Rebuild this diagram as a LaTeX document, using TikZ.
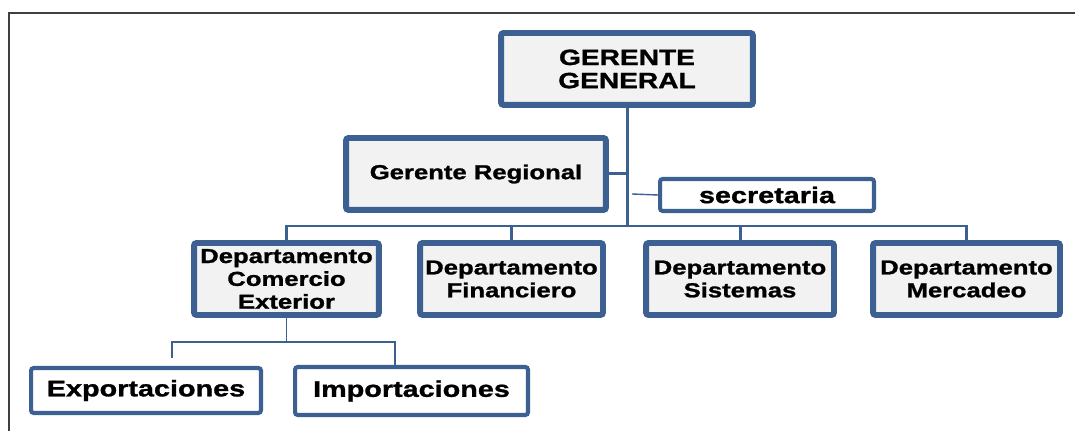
\documentclass[tikz,border=0pt]{standalone}
\usepackage{fontspec}
\setmainfont[FakeStretch=1.27,BoldFeatures={FakeBold=1.2}]{Liberation Sans}
\definecolor{boxblue}{HTML}{3B6091}
\definecolor{boxgray}{HTML}{F2F2F2}
\definecolor{framegray}{HTML}{404040}
\begin{document}
\begin{tikzpicture}[x=0.02cm,y=-0.02cm,
        bigbox/.style={draw=boxblue,fill=boxgray,line width=3.4pt,rounded corners=1.5pt,inner sep=0pt,align=center,font={\bfseries\fontsize{11.5}{13}\selectfont}},
        topbox/.style={bigbox,font={\bfseries\fontsize{12.6}{13.2}\selectfont}},
        smallbox/.style={bigbox,fill=white,line width=2.3pt,font={\bfseries\fontsize{12.9}{14}\selectfont}},
        link/.style={boxblue,line width=1.7pt},
        sublink/.style={boxblue,line width=1.1pt},
        thinlink/.style={boxblue,line width=0.8pt}]
        \useasboundingbox (0,0) rectangle (1075,431);
        %MARCO
        \draw[framegray,line width=1.1pt] (9,431) -- (9,13) -- (1075,13);

        %GERENCIA
        \node[topbox,minimum width=5.04cm,minimum height=1.44cm] (gg) at (627,69) {GERENTE\\GENERAL};
        \node[bigbox,minimum width=5.2cm,minimum height=1.44cm] (gr) at (476,174) {Gerente Regional};
        \node[smallbox,minimum width=4.28cm,minimum height=0.64cm] (sec) at (767,195) {secretaria};

        %DEPARTAMENTOS
        \node[bigbox,minimum width=3.7cm,minimum height=1.44cm] (dce) at (286.5,279) {Departamento\\Comercio\\Exterior};
        \node[bigbox,minimum width=3.66cm,minimum height=1.44cm] (df) at (511.5,279) {Departamento\\Financiero};
        \node[bigbox,minimum width=3.76cm,minimum height=1.44cm] (ds) at (740,279) {Departamento\\Sistemas};
        \node[bigbox,minimum width=3.74cm,minimum height=1.44cm] (dm) at (966.5,279) {Departamento\\Mercadeo};

        %COMERCIO EXTERIOR
        \node[smallbox,minimum width=4.6cm,minimum height=0.9cm] (exp) at (146,390.5) {Exportaciones};
        \node[smallbox,minimum width=4.66cm,minimum height=0.96cm] (imp) at (411.5,391) {Importaciones};

        %LINEAS
        \coordinate (bus) at (627,226);
        \coordinate (secin) at (632,194);
        \draw[link] (gg.south) -- (bus);
        \draw[link] (gr.east) -- (gr.east -| gg.south);
        \draw[thinlink] (sec.west) -- (secin);
        \draw[link] (dce.north) |- (bus) -| (dm.north);
        \draw[link] (df.north) -- (df.north |- bus);
        \draw[link] (ds.north) -- (ds.north |- bus);

        \coordinate (subbus) at (284,342);
        \coordinate (expin) at (172,358);
        \coordinate (impin) at (395,365);
        \draw[sublink] (dce.south) -- (dce.south |- subbus);
        \draw[sublink] (expin) |- (subbus) -| (impin);
    \end{tikzpicture}
\end{document}
